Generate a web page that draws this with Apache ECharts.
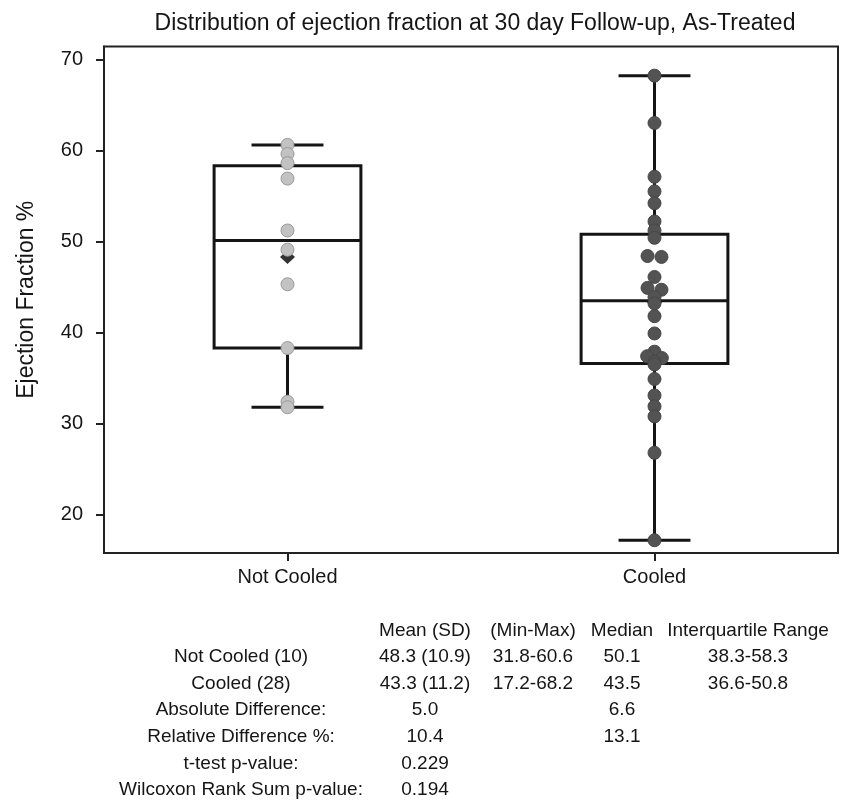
<!DOCTYPE html>
<html><head><meta charset="utf-8">
<script src="https://cdn.jsdelivr.net/npm/echarts@6/dist/echarts.min.js"></script>
<style>html,body{margin:0;padding:0;background:#fff}#c{width:841px;height:806px}</style>
</head><body><div id="c"></div>
<script>
const titleText = 'Distribution of ejection fraction at 30 day Follow-up, As-Treated';
const yAxisTitle = 'Ejection Fraction %';
const categories = ['Not Cooled', 'Cooled'];
const yTicks = [20, 30, 40, 50, 60, 70];
const boxMin = [31.8, 17.2];
const boxQ1 = [38.3, 36.6];
const boxMedian = [50.1, 43.5];
const boxQ3 = [58.3, 50.8];
const boxMax = [60.6, 68.2];
const groupMeans = [48.3, 43.3];
const notCooledValues = [60.6, 59.6, 58.6, 56.9, 51.2, 49.1, 45.3, 38.3, 32.4, 31.8];
const notCooledJitter = [0, 0, 0, 0, 0, 0, 0, 0, 0, 0];
const cooledValues = [68.2, 63.0, 57.1, 55.5, 54.2, 52.2, 51.2, 50.4, 48.4, 48.3, 46.1, 44.9, 44.7, 43.9, 43.2, 41.8, 39.9, 37.9, 37.4, 37.2, 36.8, 36.5, 34.9, 33.1, 31.9, 30.8, 26.8, 17.2];
const cooledJitter = [0, 0, 0, 0, 0, 0, 0, 0, -0.019, 0.019, 0, -0.019, 0.019, 0, 0, 0, 0, 0, -0.02, 0.02, 0, 0, 0, 0, 0, 0, 0, 0];
const tableHeaders = ['Mean (SD)', '(Min-Max)', 'Median', 'Interquartile Range'];
const tableRowLabels = ['Not Cooled (10)', 'Cooled (28)', 'Absolute Difference:', 'Relative Difference %:', 't-test p-value:', 'Wilcoxon Rank Sum p-value:'];
const colMeanSD = ['48.3 (10.9)', '43.3 (11.2)', '5.0', '10.4', '0.229', '0.194'];
const colMinMax = ['31.8-60.6', '17.2-68.2', '', '', '', ''];
const colMedian = ['50.1', '43.5', '6.6', '13.1', '', ''];
const colIQR = ['38.3-58.3', '36.6-50.8', '', '', '', ''];

const FONT = '"Liberation Sans", Arial, sans-serif';
const INK = '#151515';

const chart = echarts.init(document.getElementById('c'), null, {renderer: 'canvas'});

// table layout
const colX = [241, 425, 533, 622, 748];
const headerY = 631;
const rowY0 = 657;
const rowStep = 26.6;
const tableEls = [];
function addText(x, y, s) {
  if (!s) return;
  tableEls.push({type: 'text', x: x, y: y, style: {text: s, font: '19px ' + FONT, fill: INK, textAlign: 'center', textVerticalAlign: 'middle'}});
}
tableHeaders.forEach((h, j) => addText(colX[j + 1], headerY, h));
tableRowLabels.forEach((lab, r) => {
  const y = rowY0 + r * rowStep;
  addText(colX[0], y, lab);
  addText(colX[1], y, colMeanSD[r]);
  addText(colX[2], y, colMinMax[r]);
  addText(colX[3], y, colMedian[r]);
  addText(colX[4], y, colIQR[r]);
});

const option = {
  animation: false,
  backgroundColor: '#fff',
  title: {
    text: titleText, left: 470, top: 7, textAlign: 'center',
    textStyle: {fontFamily: FONT, fontSize: 23, fontWeight: 'normal', color: INK}
  },
  grid: {
    left: 104, right: 3, top: 46.5, bottom: 253,
    show: true, borderColor: '#222', borderWidth: 2, backgroundColor: 'transparent',
    containLabel: false, outerBoundsMode: 'none'
  },
  xAxis: [{
    type: 'category', data: categories, boundaryGap: true,
    axisLine: {show: true, onZero: false, lineStyle: {color: '#222', width: 2}},
    axisTick: {show: true, alignWithLabel: true, length: 8, lineStyle: {color: '#222', width: 2}},
    axisLabel: {fontFamily: FONT, fontSize: 20, color: INK, margin: 14},
    splitLine: {show: false}
  }, {
    type: 'value', min: -0.5, max: 1.5, show: false, gridIndex: 0,
    axisLine: {show: false, onZero: false}, axisTick: {show: false}, axisLabel: {show: false}, splitLine: {show: false}
  }],
  yAxis: {
    type: 'value', min: 15.8, max: 71.4,
    name: yAxisTitle, nameLocation: 'middle', nameGap: 66, nameRotate: 90,
    nameTextStyle: {fontFamily: FONT, fontSize: 23, color: INK},
    axisLine: {show: true, onZero: false, lineStyle: {color: '#222', width: 2}},
    axisTick: {show: true, length: 8, customValues: yTicks, lineStyle: {color: '#222', width: 2}},
    axisLabel: {fontFamily: FONT, fontSize: 20, color: INK, margin: 21, customValues: yTicks},
    splitLine: {show: false}
  },
  graphic: tableEls,
  series: [{
    type: 'custom', xAxisIndex: 0, yAxisIndex: 0, z: 2,
    data: categories.map((c, i) => [i, boxMin[i], boxQ1[i], boxMedian[i], boxQ3[i], boxMax[i]]),
    encode: {x: 0, y: [1, 2, 3, 4, 5]},
    renderItem: function (params, api) {
      const i = api.value(0);
      const pMin = api.coord([i, api.value(1)]);
      const pQ1 = api.coord([i, api.value(2)]);
      const pMed = api.coord([i, api.value(3)]);
      const pQ3 = api.coord([i, api.value(4)]);
      const pMax = api.coord([i, api.value(5)]);
      const bw = api.size([1, 0])[0] * 0.4;
      const cw = bw * 0.49;
      const cx = pMed[0];
      const st = {stroke: INK, lineWidth: 3, fill: null};
      return {type: 'group', children: [
        {type: 'line', shape: {x1: cx, y1: pQ3[1], x2: cx, y2: pMax[1]}, style: st},
        {type: 'line', shape: {x1: cx, y1: pQ1[1], x2: cx, y2: pMin[1]}, style: st},
        {type: 'line', shape: {x1: cx - cw / 2, y1: pMax[1], x2: cx + cw / 2, y2: pMax[1]}, style: st},
        {type: 'line', shape: {x1: cx - cw / 2, y1: pMin[1], x2: cx + cw / 2, y2: pMin[1]}, style: st},
        {type: 'rect', shape: {x: cx - bw / 2, y: pQ3[1], width: bw, height: pQ1[1] - pQ3[1]}, style: {stroke: INK, lineWidth: 3, fill: 'rgba(0,0,0,0)'}},
        {type: 'line', shape: {x1: cx - bw / 2, y1: pMed[1], x2: cx + bw / 2, y2: pMed[1]}, style: st}
      ]};
    }
  }, {
    type: 'scatter', xAxisIndex: 0, yAxisIndex: 0, z: 3,
    symbol: 'diamond', symbolSize: [15, 14],
    itemStyle: {color: '#000'},
    data: categories.map((c, i) => [i, groupMeans[i]])
  }, {
    type: 'scatter', xAxisIndex: 1, yAxisIndex: 0, z: 4,
    symbol: 'circle', symbolSize: 13,
    itemStyle: {color: '#c2c2c2', borderColor: '#9a9a9a', borderWidth: 1, opacity: 1},
    data: notCooledValues.map((v, k) => [0 + notCooledJitter[k], v])
  }, {
    type: 'scatter', xAxisIndex: 1, yAxisIndex: 0, z: 4,
    symbol: 'circle', symbolSize: 13,
    itemStyle: {color: '#535353', borderColor: '#474747', borderWidth: 1, opacity: 1},
    data: cooledValues.map((v, k) => [1 + cooledJitter[k], v])
  }]
};
chart.setOption(option);
</script>
</body></html>
